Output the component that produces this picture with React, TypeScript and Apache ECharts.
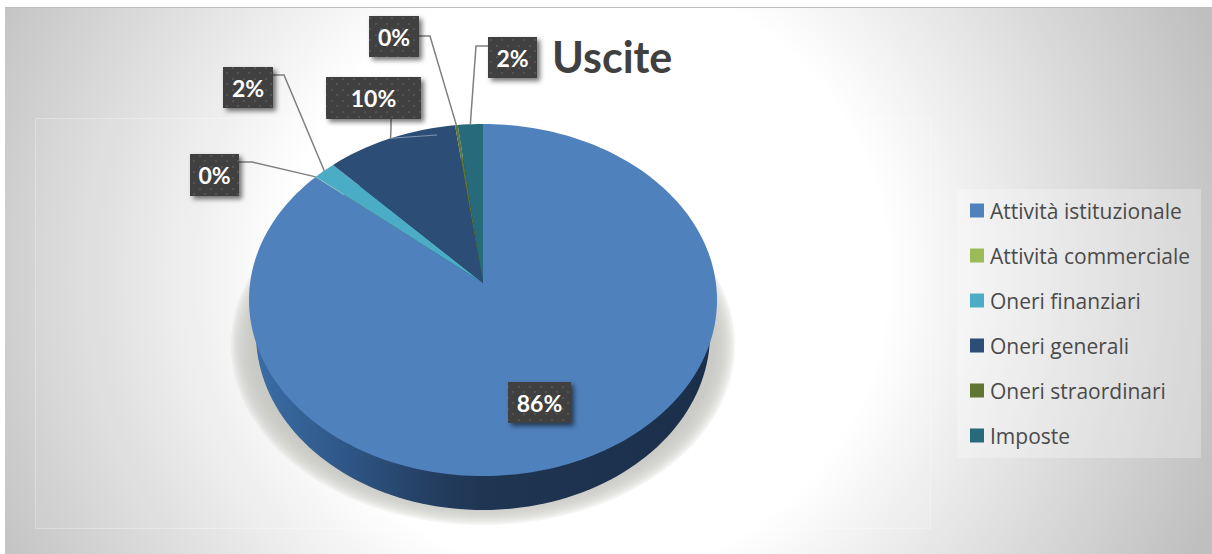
import React, { useEffect, useRef } from "react";
import * as echarts from "echarts";

const categories = [
  "Attività istituzionale",
  "Attività commerciale",
  "Oneri finanziari",
  "Oneri generali",
  "Oneri straordinari",
  "Imposte",
];
const shares = [86.18, 0.02, 1.7, 10.0, 0.2, 1.9];
const colors = ["#4f81bd", "#9bbb59", "#4bacc6", "#2c4d75", "#5f7530", "#276a7c"];

// Label boxes (left, top, right, bottom) with the bend of each leader line.
const labelBoxes = [
  { box: [508, 382, 571, 423] },
  { box: [190, 154, 239, 196], start: [239, 162], bend: [252, 162] },
  { box: [223, 67, 273, 108], start: [273, 75], bend: [284, 75] },
  { box: [326, 77, 421, 119], start: [391, 119], bend: [391, 128], tail: [437, 135] },
  { box: [369, 16, 419, 57], start: [419, 36], bend: [430, 36] },
  { box: [488, 37, 537, 78], start: [488, 46], bend: [476, 46] },
];

// Tilted disc: an ellipse whose apex sits above its centre, as in a perspective view.
const APEX = { x: 483, y: 283 };
const TILT = { a: 232.9, b: 174.4, k: 0.0966 };
const total = shares.reduce((s, v) => s + v, 0);

function rimPoint(fraction: number): number[] {
  const t = fraction * Math.PI * 2;
  const u = Math.sin(t);
  const v = Math.cos(t);
  const d = 1 + TILT.k * v;
  return [APEX.x + (TILT.a * u) / d, APEX.y - (TILT.b * v) / d];
}

function ellipsePoints(cx: number, cy: number, rx: number, ry: number): number[][] {
  const pts: number[][] = [];
  for (let i = 0; i < 180; i++) {
    const t = (i / 180) * Math.PI * 2;
    pts.push([cx + rx * Math.cos(t), cy + ry * Math.sin(t)]);
  }
  return pts;
}

function startFraction(index: number): number {
  let sum = 0;
  for (let i = 0; i < index; i++) sum += shares[i];
  return sum / total;
}

function makeDotTile(): HTMLCanvasElement {
  const c = document.createElement("canvas");
  c.width = 11;
  c.height = 11;
  const ctx = c.getContext("2d")!;
  ctx.fillStyle = "#404040";
  ctx.fillRect(0, 0, 11, 11);
  ctx.fillStyle = "#535353";
  ctx.fillRect(1, 1, 2, 2);
  ctx.fillRect(6, 6, 2, 2);
  return c;
}

const sliceRender = (index: number) => (_params: any, api: any) => {
  const from = startFraction(index);
  const span = api.value(0) / total;
  const steps = Math.max(2, Math.ceil(span * 240));
  const points: number[][] = [[APEX.x, APEX.y]];
  for (let i = 0; i <= steps; i++) points.push(rimPoint(from + (span * i) / steps));
  return {
    type: "polygon",
    shape: { points },
    style: { fill: api.visual("color") },
    silent: true,
  };
};

export default function App() {
  const ref = useRef<HTMLDivElement>(null);

  useEffect(() => {
    document.body.style.margin = "0";
    document.body.style.overflow = "hidden";
    const chart = echarts.init(ref.current!, undefined, { renderer: "svg" });
    const tile = makeDotTile();

    // Soft cast shadow: nested translucent ellipses build up towards the middle.
    const shadowLayers: any[] = [];
    for (let d = 12; d >= -10; d -= 2) {
      shadowLayers.push({
        type: "polygon",
        shape: { points: ellipsePoints(483, 345, 240 + d, 168 + d) },
        style: { fill: "rgba(200,198,195,0.2)" },
      });
    }

    const baseSeries = {
      type: "custom",
      name: "base",
      coordinateSystem: "none",
      silent: true,
      z: 2,
      data: [[1]],
      renderItem: () => ({
        type: "group",
        children: [
          ...shadowLayers,
          {
            type: "polygon",
            shape: { points: ellipsePoints(483, 334, 227, 176) },
            style: {
              fill: {
                type: "linear",
                x: 0,
                y: 0,
                x2: 1,
                y2: 0,
                colorStops: [
                  { offset: 0, color: "#3a6da6" },
                  { offset: 0.22, color: "#2d5482" },
                  { offset: 0.38, color: "#243f62" },
                  { offset: 0.5, color: "#1f3552" },
                  { offset: 1, color: "#1b2f4a" },
                ],
              },
            },
          },
        ],
      }),
    };

    const sliceSeries = categories.map((name, i) => ({
      type: "custom",
      name,
      coordinateSystem: "none",
      silent: true,
      z: 3,
      itemStyle: { color: colors[i] },
      data: [[shares[i]]],
      renderItem: sliceRender(i),
    }));

    const labelSeries = {
      type: "custom",
      name: "labels",
      coordinateSystem: "none",
      silent: true,
      z: 5,
      data: shares.map((v) => [v]),
      renderItem: (params: any, api: any) => {
        const i = params.dataIndex;
        const v = api.value(0);
        const place = labelBoxes[i] as any;
        const [l, t, r, b] = place.box;
        const children: any[] = [];
        if (place.start) {
          const anchor = rimPoint(startFraction(i) + v / total / 2);
          children.push({
            type: "polyline",
            shape: { points: [place.start, place.bend, anchor] },
            style: { stroke: "#7f7f7f", lineWidth: 1.5, fill: "none" },
          });
          if (place.tail) {
            children.push({
              type: "line",
              shape: { x1: anchor[0], y1: anchor[1], x2: place.tail[0], y2: place.tail[1] },
              style: { stroke: "rgba(200,210,225,0.55)", lineWidth: 1 },
            });
          }
        }
        children.push(
          {
            type: "rect",
            shape: { x: l, y: t, width: r - l, height: b - t },
            style: {
              fill: "#404040",
              shadowColor: "rgba(0,0,0,0.55)",
              shadowBlur: 5,
              shadowOffsetX: 3,
              shadowOffsetY: 3,
            },
          },
          {
            type: "rect",
            shape: { x: l, y: t, width: r - l, height: b - t },
            style: { fill: { image: tile, repeat: "repeat" } },
          },
          {
            type: "text",
            style: {
              x: (l + r) / 2,
              y: (t + b) / 2,
              text: `${Math.round((v / total) * 100)}%`,
              fill: "#ffffff",
              font: "bold 23px Lato",
              align: "center",
              verticalAlign: "middle",
            },
          }
        );
        return { type: "group", children };
      },
    };

    chart.setOption({
      animation: false,
      backgroundColor: "#ffffff",
      title: {
        text: "Uscite",
        left: 552,
        top: 35,
        padding: 0,
        textStyle: { color: "#404040", fontFamily: "Lato", fontWeight: "bold", fontSize: 43 },
      },
      legend: {
        data: categories,
        orient: "vertical",
        left: 957,
        top: 189,
        padding: [11, 11, 12, 13],
        backgroundColor: "rgba(255,255,255,0.28)",
        itemWidth: 14,
        itemHeight: 14,
        itemGap: 24,
        icon: "rect",
        selectedMode: false,
        textStyle: { color: "#4a4a4a", fontFamily: "Open Sans", fontSize: 21, padding: [0, 0, 0, 1] },
      },
      graphic: [
        {
          type: "rect",
          z: -10,
          silent: true,
          shape: { x: 5, y: 7, width: 1207, height: 547 },
          style: {
            fill: {
              type: "radial",
              x: 585,
              y: 275,
              r: 670,
              global: true,
              colorStops: [
                { offset: 0, color: "#ffffff" },
                { offset: 0.45, color: "#ffffff" },
                { offset: 0.75, color: "#dcdcdc" },
                { offset: 1, color: "#bfbfbf" },
              ],
            },
          },
        },
        {
          type: "line",
          z: -9,
          silent: true,
          shape: { x1: 5, y1: 7.5, x2: 1212, y2: 7.5 },
          style: { stroke: "#bdbdbd", lineWidth: 1 },
        },
        {
          type: "rect",
          z: -8,
          silent: true,
          shape: { x: 35.5, y: 118.5, width: 895, height: 410 },
          style: { fill: "rgba(255,255,255,0.06)", stroke: "rgba(255,255,255,0.3)", lineWidth: 1 },
        },
      ],
      series: [baseSeries, ...sliceSeries, labelSeries],
    });

    return () => chart.dispose();
  }, []);

  return <div ref={ref} style={{ width: 1212, height: 554 }} />;
}
